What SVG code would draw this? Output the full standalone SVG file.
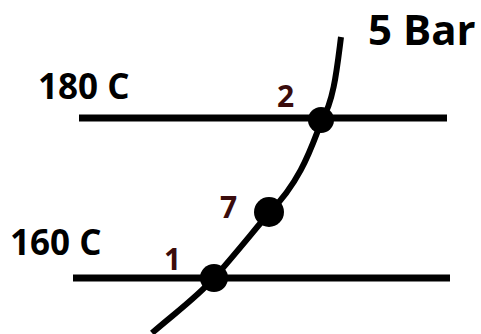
<svg xmlns="http://www.w3.org/2000/svg" width="481" height="334" viewBox="0 0 481 334">
<style>
.ln{stroke:#000;stroke-width:7;fill:none}
.cv{stroke:#000;stroke-width:6;fill:none;stroke-linecap:butt}
.lbl{font-family:"Open Sans","Liberation Sans",sans-serif;font-weight:bold;fill:#000}
.num{font-family:"Open Sans","Liberation Sans",sans-serif;font-weight:bold;fill:#3a0c0c;font-size:30px}
.dot{fill:#000}
</style>
<rect width="481" height="334" fill="#fff"/>
<g id="connectors">
<line class="ln" x1="79" y1="118" x2="447" y2="118"/>
<line class="ln" x1="73" y1="278" x2="450" y2="278"/>
<path class="cv" d="M341,37 C337,68 334,100 322,120 C312,145 302,180 269,213 C252,233 232,258 214,278 C196,298 175,313 152,333"/>
</g>
<g id="node-2"><circle class="dot" cx="321" cy="120" r="13"/><text class="num" x="277" y="107">2</text></g>
<g id="node-7"><circle class="dot" cx="269" cy="212" r="15"/><text class="num" x="220" y="218">7</text></g>
<g id="node-1"><circle class="dot" cx="214" cy="278" r="14"/><text class="num" x="164" y="270">1</text></g>
<g id="label-180"><text class="lbl" x="38" y="99" font-size="35">180 C</text></g>
<g id="label-160"><text class="lbl" x="10" y="255" font-size="35">160 C</text></g>
<g id="label-5bar"><text class="lbl" x="368" y="45" font-size="42">5 Bar</text></g>
</svg>
